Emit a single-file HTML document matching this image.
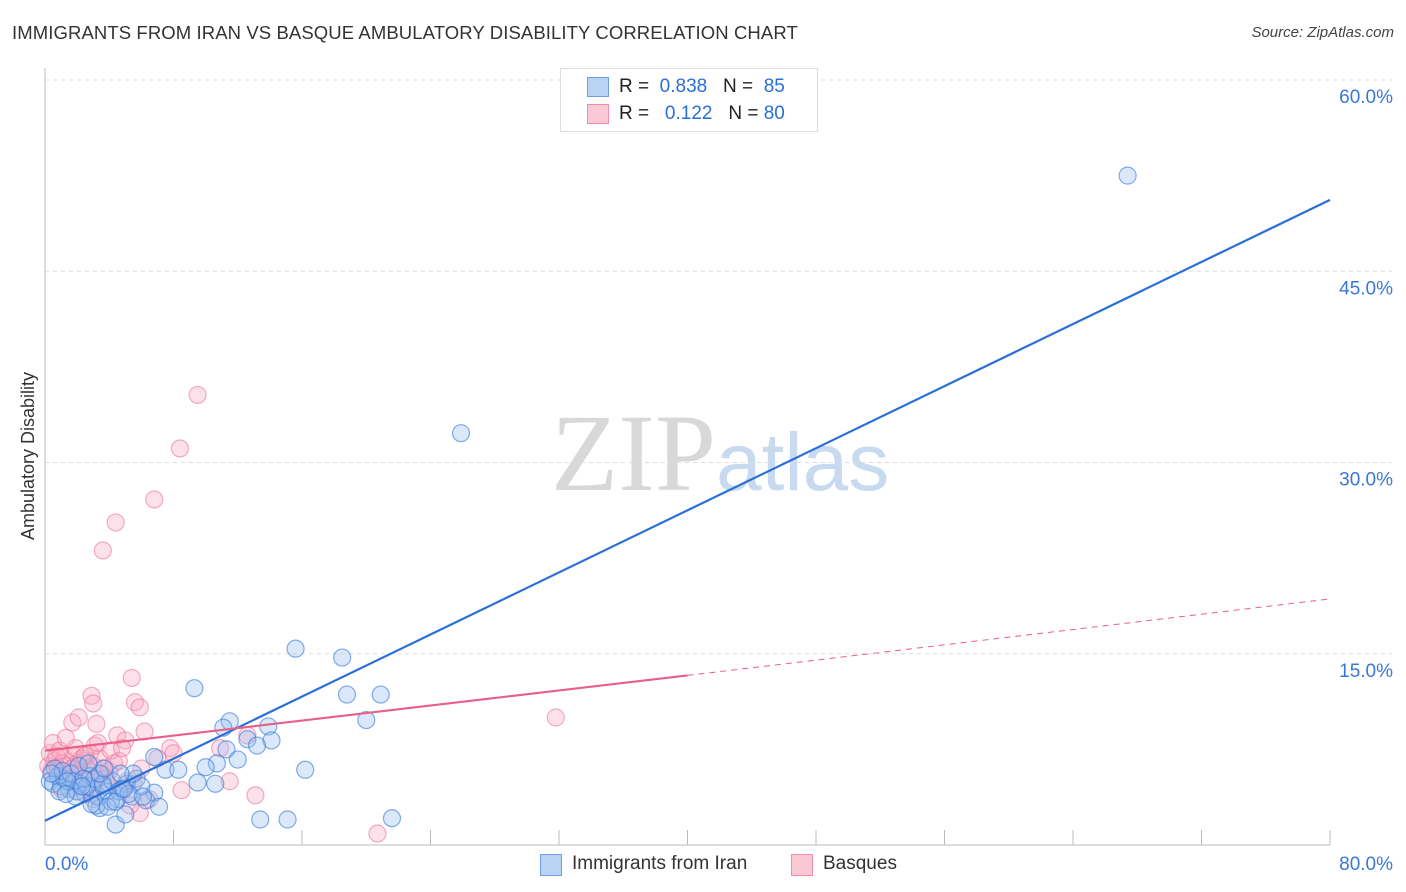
<!DOCTYPE html>
<html><head><meta charset="utf-8">
<style>
body{margin:0;background:#fff;font-family:"Liberation Sans",sans-serif;}
#wrap{position:relative;width:1406px;height:892px;overflow:hidden;}
.title{position:absolute;left:12px;top:22px;font-size:18.5px;color:#333;letter-spacing:0.1px}
.source{position:absolute;right:12px;top:24px;font-size:15px;color:#444;font-style:italic}
</style></head>
<body>
<div id="wrap">
<div class="title">IMMIGRANTS FROM IRAN VS BASQUE AMBULATORY DISABILITY CORRELATION CHART</div>
<div class="source">Source: ZipAtlas.com</div>
<svg id="svg" width="1406" height="892" style="position:absolute;left:0;top:0">
<text x="716" y="490" font-family="Liberation Serif" font-size="110" fill="#d8d8d8" text-anchor="end">ZIP</text>
<text x="716" y="490" font-family="Liberation Sans" font-size="82" fill="#c8daf0">atlas</text>
</svg>
<div style="position:absolute;left:560px;top:68px;width:256px;height:62px;border:1px solid #ddd;background:#fff">
 <div style="position:absolute;left:26px;top:8px;width:20px;height:18px;background:#b9d3f5;border:1px solid #6fa0e0"></div>
 <div style="position:absolute;left:58px;top:7px;font-size:19px;color:#222">R = <span style="color:#2a6fd6">&nbsp;0.838</span>&nbsp;&nbsp;&nbsp;N = <span style="color:#2a6fd6">&nbsp;85</span></div>
 <div style="position:absolute;left:26px;top:35px;width:20px;height:18px;background:#fbc8d6;border:1px solid #ee8eaa"></div>
 <div style="position:absolute;left:58px;top:34px;font-size:19px;color:#222">R = <span style="color:#2a6fd6">&nbsp;&nbsp;0.122</span>&nbsp;&nbsp;&nbsp;N = <span style="color:#2a6fd6">80</span></div>
</div>
<div style="position:absolute;left:540px;top:854px;width:20px;height:20px;background:#b9d3f5;border:1px solid #6fa0e0"></div>
<div style="position:absolute;left:572px;top:853px;font-size:19px;color:#333">Immigrants from Iran</div>
<div style="position:absolute;left:791px;top:854px;width:20px;height:20px;background:#fbc8d6;border:1px solid #ee8eaa"></div>
<div style="position:absolute;left:823px;top:853px;font-size:19px;color:#333">Basques</div>
</div>
<script>
const yTicks=[15,30,45,60];
const yTickLabels=["15.0%","30.0%","45.0%","60.0%"];
const xLabels=["0.0%","80.0%"];
const iranX=[67.4,25.9,15.6,18.5,9.3,18.8,20.9,20.0,11.5,13.9,11.1,12.6,14.1,13.2,11.3,10.7,12.0,10.0,16.2,7.5,8.3,6.8,9.5,10.6,13.4,15.1,21.6,6.8,6.3,7.1,4.4,5.0,3.4,3.2,
0.3,0.5,0.8,1.0,1.2,1.5,1.8,2.0,2.2,2.5,2.8,3.0,3.3,3.6,3.9,4.2,4.5,4.8,5.1,5.4,5.7,6.0,0.6,1.1,1.6,2.1,2.6,3.1,3.6,4.1,4.6,5.2,0.4,0.9,1.4,1.9,2.4,2.9,3.4,3.9,4.4,4.9,5.5,6.1,2.7,3.7,4.7,1.3,2.3];
const iranY=[52.5,32.3,15.4,14.7,12.3,11.8,11.8,9.8,9.7,9.3,9.2,8.3,8.2,7.8,7.5,6.4,6.7,6.1,5.9,5.9,5.9,6.9,4.9,4.8,2.0,2.0,2.1,4.1,3.5,3.0,1.6,2.4,2.9,3.1,
5.0,4.8,5.4,4.6,5.2,4.4,5.0,4.2,4.8,4.0,5.4,4.4,3.8,4.6,4.2,5.0,3.6,4.4,4.8,3.8,5.2,4.6,6.0,5.8,5.6,6.2,4.6,5.2,4.8,3.4,4.2,4.0,5.6,4.2,5.0,3.8,5.2,3.2,5.6,3.0,3.4,4.4,5.6,3.8,6.4,6.0,5.6,4.0,4.6];
const basX=[9.5,8.4,6.8,4.4,3.6,5.4,31.8,2.9,3.0,5.6,5.9,1.7,3.2,2.1,6.2,4.5,5.0,7.8,12.6,10.9,11.5,13.1,20.7,8.5,5.9,5.3,
0.2,0.4,0.6,0.8,1.0,1.2,1.4,1.6,1.8,2.0,2.2,2.4,2.6,2.8,3.0,3.2,3.4,3.6,3.8,4.0,0.3,0.7,1.1,1.5,1.9,2.3,2.7,3.1,3.5,3.9,4.3,4.7,5.1,0.5,0.9,1.3,1.7,2.1,2.5,2.9,3.3,4.1,4.6,5.5,6.0,6.5,7.0,1.0,2.0,3.0,4.8,8.0];
const basY=[35.3,31.1,27.1,25.3,23.1,13.1,10.0,11.7,11.1,11.2,10.8,9.6,9.5,10.0,8.9,8.6,8.2,7.6,8.6,7.6,5.0,3.9,0.9,4.3,2.5,3.1,
6.2,5.8,6.6,6.0,5.4,6.8,6.2,5.6,7.0,6.4,5.8,6.6,6.0,7.2,6.2,5.4,6.8,6.0,5.2,5.8,7.2,7.0,6.4,5.2,7.6,6.8,5.0,7.8,5.6,4.8,6.4,4.4,5.0,8.0,7.4,8.4,6.0,4.6,7.0,4.0,8.0,7.4,6.6,4.8,6.0,3.6,6.8,4.4,4.2,3.6,7.6,7.2];
const X=v=>45+v/80*1285, Y=v=>845-v/60*765;
const svg=document.getElementById('svg'),NS="http://www.w3.org/2000/svg";
function mk(t,a){const e=document.createElementNS(NS,t);for(const k in a)e.setAttribute(k,a[k]);svg.appendChild(e);return e;}
const ax=mk('line',{x1:45,y1:68,x2:45,y2:845,stroke:'#bbb'});


const xa=mk('line',{x1:45,y1:845,x2:1330,y2:845,stroke:'#bbb'});


for(let i=1;i<=10;i++){const t=mk('line',{x1:X(i*8),x2:X(i*8),y1:830,y2:845,stroke:'#bbb'});

}
yTicks.forEach((v,i)=>{const g=mk('line',{x1:45,x2:1392,y1:Y(v),y2:Y(v),stroke:'#ddd','stroke-dasharray':'4,4'});


const t=mk('text',{x:1393,y:Y(v)+23,'text-anchor':'end','font-size':19,fill:'#3a78d8'});t.textContent=yTickLabels[i];

});
const xl0=mk('text',{x:45,y:870,'font-size':19,fill:'#3a78d8'});xl0.textContent=xLabels[0];


const xl1=mk('text',{x:1393,y:870,'font-size':19,fill:'#3a78d8','text-anchor':'end'});xl1.textContent=xLabels[1];


const yt=mk('text',{x:34,y:456,'font-size':18,fill:'#333','text-anchor':'middle',transform:'rotate(-90 34 456)'});yt.textContent='Ambulatory Disability';


basX.forEach((v,i)=>{const c=mk('circle',{cx:X(v),cy:Y(basY[i]),r:8.5,fill:'rgba(248,170,195,0.35)',stroke:'rgba(236,120,155,0.6)','stroke-width':1.2});

});
iranX.forEach((v,i)=>{const c=mk('circle',{cx:X(v),cy:Y(iranY[i]),r:8.5,fill:'rgba(150,190,240,0.35)',stroke:'rgba(50,120,215,0.6)','stroke-width':1.2});

});
const bl=mk('line',{x1:X(0),y1:Y(1.9),x2:X(80),y2:Y(50.6),stroke:'#2a6fd6','stroke-width':2.2});


const pl=mk('line',{x1:X(0),y1:Y(7.4),x2:X(40),y2:Y(13.3),stroke:'#e8608a','stroke-width':2.2});


const pd=mk('line',{x1:X(40),y1:Y(13.3),x2:X(80),y2:Y(19.3),stroke:'#e8608a','stroke-width':1,'stroke-dasharray':'6,5'});


</script>
</body></html>
